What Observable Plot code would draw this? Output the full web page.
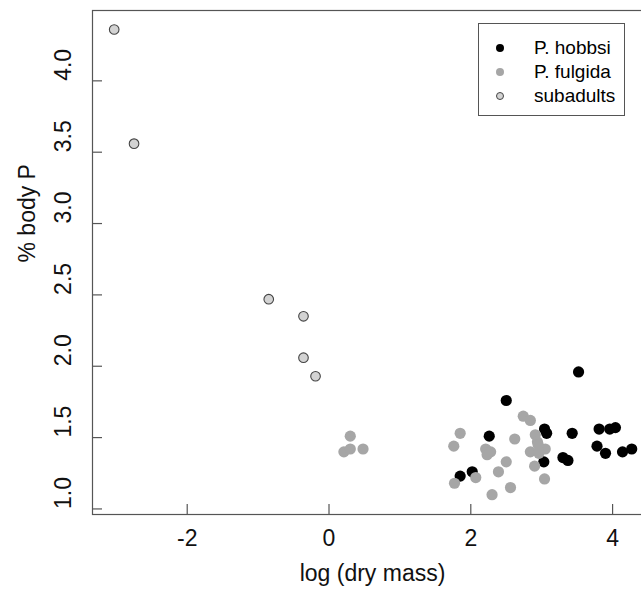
<!DOCTYPE html>
<html>
<head>
<meta charset="utf-8">
<script src="https://cdn.jsdelivr.net/npm/d3@7"></script>
<script src="https://cdn.jsdelivr.net/npm/@observablehq/plot@0.6"></script>
<style>
  html, body { margin: 0; padding: 0; background: white; overflow: hidden; }
  #wrap { position: relative; width: 641px; height: 601px; overflow: hidden; font-family: "Liberation Sans", Arial, sans-serif; }
  #wrap svg { overflow: hidden; }
  #legend { position: absolute; left: 478px; top: 23px; width: 147px; height: 93px; border: 1px solid #555; background: white; box-sizing: border-box; }
  .row { position: absolute; left: 0; height: 20px; display: flex; align-items: center; font-size: 19px; color: #000; }
  .sym { position: absolute; border-radius: 50%; box-sizing: border-box; }
</style>
</head>
<body>
<div id="wrap"></div>
<script>
// ---- data ----
const hobbsiX = [3.52, 2.50, 3.04, 3.07, 2.26, 3.43, 3.81, 3.96, 4.04, 3.78, 3.90, 4.14, 4.27, 3.30, 3.37, 3.03, 2.02, 1.85];
const hobbsiY = [1.96, 1.76, 1.56, 1.53, 1.51, 1.53, 1.56, 1.56, 1.57, 1.44, 1.39, 1.40, 1.42, 1.36, 1.34, 1.33, 1.26, 1.23];

const fulgidaX = [0.30, 0.21, 0.30, 0.48, 1.85, 1.76, 2.74, 2.84, 2.21, 2.28, 2.23, 2.62, 2.91, 2.94, 3.05, 2.84, 2.96, 2.90, 2.50, 2.39, 2.07, 1.77, 3.04, 2.56, 2.30, 2.95];
const fulgidaY = [1.51, 1.40, 1.42, 1.42, 1.53, 1.44, 1.65, 1.62, 1.42, 1.40, 1.38, 1.49, 1.52, 1.47, 1.42, 1.40, 1.39, 1.30, 1.33, 1.26, 1.22, 1.18, 1.21, 1.15, 1.10, 1.45];

const subX = [-3.03, -2.75, -0.85, -0.36, -0.36, -0.19];
const subY = [4.36, 3.56, 2.47, 2.35, 2.06, 1.93];

const xTicks = [-2, 0, 2, 4];
const yTicks = [1.0, 1.5, 2.0, 2.5, 3.0, 3.5, 4.0];
const xTitle = "log (dry mass)";
const yTitle = "% body P";

const legendLabels = ["P. hobbsi", "P. fulgida", "subadults"];
const legendFills = ["#000000", "#a6a6a6", "#d3d3d3"];
const legendStrokes = ["none", "none", "#444444"];

// ---- build tables ----
const hobbsi = hobbsiX.map((x, i) => ({x, y: hobbsiY[i]}));
const fulgida = fulgidaX.map((x, i) => ({x, y: fulgidaY[i]}));
const subadults = subX.map((x, i) => ({x, y: subY[i]}));

const axisColor = "#555555";
const fontSize = 23;

const chart = Plot.plot({
  width: 641,
  height: 601,
  marginLeft: 92,
  marginRight: -11,
  marginTop: 10,
  marginBottom: 87,
  x: {domain: [-3.336, 4.563], axis: null},
  y: {domain: [0.961, 4.493], axis: null},
  style: {fontFamily: "'Liberation Sans', Arial, sans-serif", background: "white", overflow: "hidden"},
  marks: [
    Plot.frame({stroke: axisColor, strokeWidth: 1.2}),
    Plot.tickX(xTicks, {x: d => d, insetTop: 494, stroke: axisColor, strokeWidth: 1.2}),
    Plot.tickY(yTicks, {y: d => d, insetRight: 550, stroke: axisColor, strokeWidth: 1.2}),
    Plot.text(xTicks, {x: d => d, text: d => String(d), frameAnchor: "bottom", dy: 31, fontSize, fill: "#111"}),
    Plot.text(yTicks, {y: d => d, text: d => d.toFixed(1), frameAnchor: "left", dx: -29, rotate: -90, fontSize, fill: "#111"}),
    Plot.text([xTitle], {text: d => d, frameAnchor: "bottom", dy: 66, fontSize, fill: "#111"}),
    Plot.text([yTitle], {text: d => d, frameAnchor: "left", dx: -65, rotate: -90, fontSize, fill: "#111"}),
    Plot.dot(hobbsi, {x: "x", y: "y", r: 5.6, fill: "#000000", stroke: "none"}),
    Plot.dot(fulgida, {x: "x", y: "y", r: 5.6, fill: "#a6a6a6", stroke: "none"}),
    Plot.dot(subadults, {x: "x", y: "y", r: 4.8, fill: "#d3d3d3", stroke: "#444444", strokeWidth: 1.1})
  ]
});

const wrap = document.getElementById("wrap");
wrap.appendChild(chart);

// ---- legend (overlay) ----
const legend = document.createElement("div");
legend.id = "legend";
const rowTops = [14, 38, 62];
legendLabels.forEach((label, i) => {
  const row = document.createElement("div");
  row.className = "row";
  row.style.top = rowTops[i] + "px";
  const sym = document.createElement("div");
  sym.className = "sym";
  const size = 8;
  sym.style.width = size + "px";
  sym.style.height = size + "px";
  sym.style.left = (21 - size / 2) + "px";
  sym.style.top = (10 - size / 2) + "px";
  sym.style.background = legendFills[i];
  if (legendStrokes[i] !== "none") sym.style.border = "1px solid " + legendStrokes[i];
  row.appendChild(sym);
  const txt = document.createElement("span");
  txt.textContent = label;
  txt.style.position = "absolute";
  txt.style.left = "55px";
  txt.style.whiteSpace = "nowrap";
  row.appendChild(txt);
  legend.appendChild(row);
});
wrap.appendChild(legend);
</script>
</body>
</html>
